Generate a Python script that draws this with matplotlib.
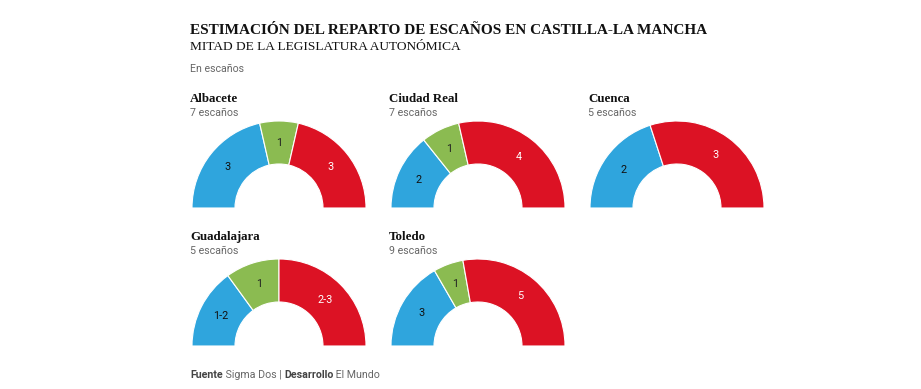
import math
import matplotlib.pyplot as plt
from matplotlib.patches import Wedge

provinces = ["Albacete", "Ciudad Real", "Cuenca", "Guadalajara", "Toledo"]
seats = [7, 7, 5, 5, 9]
# PP, Vox, PSOE (ranges drawn at their midpoint)
pp = [3, 2, 2, 1.5, 3]
vox = [1, 1, 0, 1, 1]
psoe = [3, 4, 3, 2.5, 5]
pp_lbl = ["3", "2", "2", "1-2", "3"]
vox_lbl = ["1", "1", "", "1", "1"]
psoe_lbl = ["3", "4", "3", "2-3", "5"]

colors = ["#2fa5dd", "#8bbb51", "#dc1224"]
text_cols = ["#111111", "#222222", "white"]

W, H = 921, 389
fig = plt.figure(figsize=(W / 100, H / 100), dpi=100)
ax = fig.add_axes([0, 0, 1, 1])
ax.set_xlim(0, W)
ax.set_ylim(H, 0)   # pixel-like coords, y down
ax.set_aspect("equal")
ax.axis("off")

serif = "Liberation Serif"
sans = "Roboto"

ax.text(190, 30, "ESTIMACIÓN DEL REPARTO DE ESCAÑOS EN CASTILLA-LA MANCHA",
        family=serif, weight="bold", fontsize=11.0, va="center", color="#111111")
ax.text(190, 47, "MITAD DE LA LEGISLATURA AUTONÓMICA",
        family=serif, fontsize=9.6, va="center", color="#111111")
ax.text(190, 69, "En escaños", family=sans, fontsize=7.6, va="center", color="#666666")

centers = [(279, 208), (478, 208), (677, 208), (279, 346), (478, 346)]
r_out, r_in = 87, 44

for i, name in enumerate(provinces):
    cx, cy = centers[i]
    ax.text(cx - 89, cy - 109, name, family=serif, weight="bold", fontsize=9.3,
            va="center", color="#111111")
    ax.text(cx - 89, cy - 95, f"{seats[i]} escaños", family=sans, fontsize=7.7,
            va="center", color="#666666")
    vals = [pp[i], vox[i], psoe[i]]
    lbls = [pp_lbl[i], vox_lbl[i], psoe_lbl[i]]
    total = sum(vals)
    # y axis runs downward, so 180..360 is the upper half on screen
    start = 180.0
    for v, lab, c, tc in zip(vals, lbls, colors, text_cols):
        if v == 0:
            continue
        span = 180.0 * v / total
        ax.add_patch(Wedge((cx, cy), r_out, start, start + span, width=r_out - r_in,
                           facecolor=c, edgecolor="white", linewidth=0.8))
        mid = math.radians(start + span / 2)
        rr = (r_out + r_in) / 2
        ax.text(cx + rr * math.cos(mid), cy + rr * math.sin(mid), lab, family=sans,
                fontsize=7.8, ha="center", va="center", color=tc)
        start += span

# footer, pieces chained one after another
parts = [("Fuente", "bold", "#444444"), (" Sigma Dos | ", "normal", "#666666"),
         ("Desarrollo", "bold", "#444444"), (" El Mundo", "normal", "#666666")]
prev = ax.text(190, 375, parts[0][0], family=sans, weight=parts[0][1], fontsize=7.7,
               va="center", color=parts[0][2])
for txt, wt, col in parts[1:]:
    prev = ax.annotate(txt, xy=(1, 0), xycoords=prev, va="bottom", family=sans,
                       weight=wt, fontsize=7.7, color=col)

fig.savefig("out.png", dpi=100, facecolor="white")
